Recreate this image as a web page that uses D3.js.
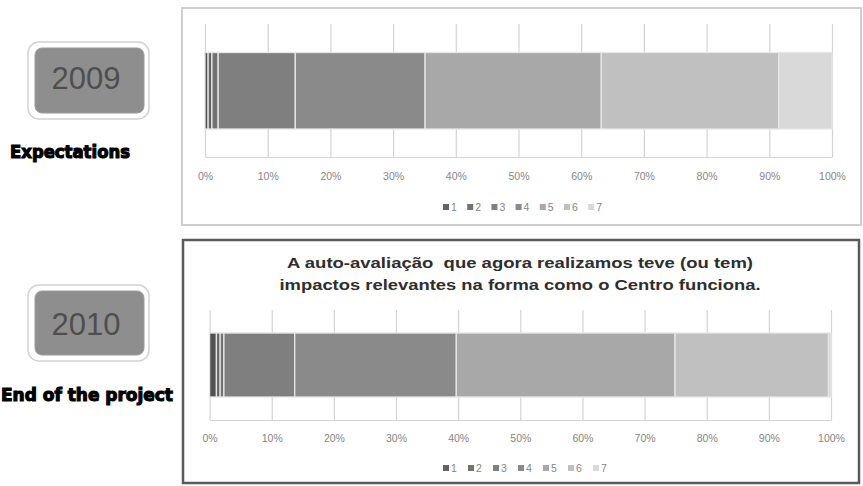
<!DOCTYPE html>
<html><head><meta charset="utf-8">
<script src="https://cdn.jsdelivr.net/npm/d3@7"></script>
<style>body{margin:0;background:#fff} svg{display:block}</style>
</head><body><svg id="c" width="863" height="486"></svg>
<script>
// ---- data ----
const seriesKeys = ["0","1","2","3","4","5","6","7"];
const legendLabels = ["1","2","3","4","5","6","7"];
const values2009 = [0.5, 0.6, 1.0, 12.3, 20.7, 28.1, 28.3, 8.5];
const values2010 = [1.1, 0.6, 0.6, 11.4, 26.0, 35.2, 24.7, 0.4];
const tickValues = [0,10,20,30,40,50,60,70,80,90,100];
const years = ["2009","2010"];
const captions = ["Expectations","End of the project"];
const titleLines2010 = ["A auto-avaliação  que agora realizamos teve (ou tem)",
                        "impactos relevantes na forma como o Centro funciona."];
const colors = ["#525252","#646464","#727272","#7f7f7f","#8a8a8a","#a8a8a8","#c0c0c0","#d9d9d9"];

// ---- layout ----
const panels = [
  {values: values2009, year: years[0], caption: captions[0], title: null,
   box:{x:182,y:8,w:679,h:217,stroke:"#cfcfcf",sw:2},
   x0:205, x1:832, top:24, bottom:157, barTop:52.5, barBot:129, tickPad:16, legendY:207, legendX:443, legendStep:24.2,
   yb:{ox:28,oy:42,ow:121,oh:77, ix:35,iy:48,iw:109,ih:65, tx:86, ty:89},
   cap:{x:10,y:158,len:120}},
  {values: values2010, year: years[1], caption: captions[1], title: titleLines2010,
   box:{x:183,y:240,w:676,h:243,stroke:"#5a5a5a",sw:2.5},
   x0:209.6, x1:831, top:310, bottom:420, barTop:333, barBot:397, tickPad:15, legendY:468, legendX:443, legendStep:25,
   yb:{ox:28,oy:285,ow:121,oh:76, ix:35,iy:291,iw:109,ih:64, tx:86, ty:335},
   cap:{x:1,y:401,len:172}}
];

const svg = d3.select("#c");

panels.forEach(p => {
  const g = svg.append("g");
  // panel box
  g.append("rect").attr("x",p.box.x).attr("y",p.box.y).attr("width",p.box.w).attr("height",p.box.h)
    .attr("fill","#fff").attr("stroke",p.box.stroke).attr("stroke-width",p.box.sw);

  // year badge
  g.append("rect").attr("x",p.yb.ox).attr("y",p.yb.oy).attr("width",p.yb.ow).attr("height",p.yb.oh)
    .attr("rx",11).attr("fill","#fff").attr("stroke","#d2d2d2").attr("stroke-width",1.5);
  g.append("rect").attr("x",p.yb.ix).attr("y",p.yb.iy).attr("width",p.yb.iw).attr("height",p.yb.ih)
    .attr("rx",7).attr("fill","#8e8e8e").attr("stroke","#9a9a9a").attr("stroke-width",1);
  g.append("text").attr("x",p.yb.tx).attr("y",p.yb.ty).attr("text-anchor","middle")
    .attr("font-family","Liberation Sans, Arial, sans-serif").attr("font-size",31)
    .attr("fill","#4e4e4e").text(p.year);

  // caption
  g.append("text").attr("x",p.cap.x).attr("y",p.cap.y)
    .attr("font-family","DejaVu Sans, sans-serif").attr("font-weight","bold").attr("font-size",17)
    .attr("fill","#000").attr("stroke","#000").attr("stroke-width",1.1)
    .attr("textLength",p.cap.len).attr("lengthAdjust","spacingAndGlyphs").text(p.caption);

  // title
  if (p.title) {
    g.selectAll("text.title").data(p.title).join("text").attr("class","title")
      .attr("x",520).attr("y",(d,i)=>268 + i*22).attr("text-anchor","middle")
      .attr("font-family","Liberation Sans, Arial, sans-serif").attr("font-weight","bold").attr("font-size",15.5)
      .attr("fill","#2e2e2e").style("white-space","pre")
      .attr("textLength",(d,i)=> i===0 ? 466 : 481).attr("lengthAdjust","spacingAndGlyphs")
      .text(d=>d);
  }

  // scales
  const x = d3.scaleLinear().domain([0,100]).range([p.x0,p.x1]);
  const y = d3.scaleBand().domain(["row"]).range([p.barTop,p.barBot]).padding(0);

  // axis + gridlines
  const axis = d3.axisBottom(x).tickValues(tickValues).tickFormat(d=>d+"%")
    .tickSize(-(p.bottom-p.top)).tickSizeOuter(0).tickPadding(p.tickPad);
  const ag = g.append("g").attr("transform",`translate(0,${p.bottom})`).call(axis);
  ag.select(".domain").attr("stroke","#d4d4d4").attr("stroke-width",1.2);
  ag.selectAll(".tick line").attr("stroke","#d4d4d4").attr("stroke-width",1.2);
  ag.selectAll(".tick text").attr("font-family","Liberation Sans, Arial, sans-serif")
    .attr("font-size",10.5).attr("fill","#858585");

  // stacked bar
  const row = {cat:"row"};
  seriesKeys.forEach((k,i)=> row[k] = p.values[i]);
  const stacked = d3.stack().keys(seriesKeys)([row]);
  g.append("g").selectAll("rect").data(stacked).join("rect")
    .attr("x",d=>x(d[0][0])).attr("width",d=>Math.max(0,x(d[0][1])-x(d[0][0])))
    .attr("y",y("row")).attr("height",y.bandwidth())
    .attr("fill",(d,i)=>colors[i]).attr("stroke","#e6e6e6").attr("stroke-width",1.3);

  // legend
  const lg = g.append("g").selectAll("g").data(legendLabels).join("g")
    .attr("transform",(d,i)=>`translate(${p.legendX + i*p.legendStep},${p.legendY})`);
  lg.append("rect").attr("x",0).attr("y",-3).attr("width",6).attr("height",6)
    .attr("fill",(d,i)=>colors[i+1]);
  lg.append("text").attr("x",8).attr("y",3.8)
    .attr("font-family","Liberation Sans, Arial, sans-serif").attr("font-size",10.5)
    .attr("fill","#858585").text(d=>d);
});
</script>
</body></html>
